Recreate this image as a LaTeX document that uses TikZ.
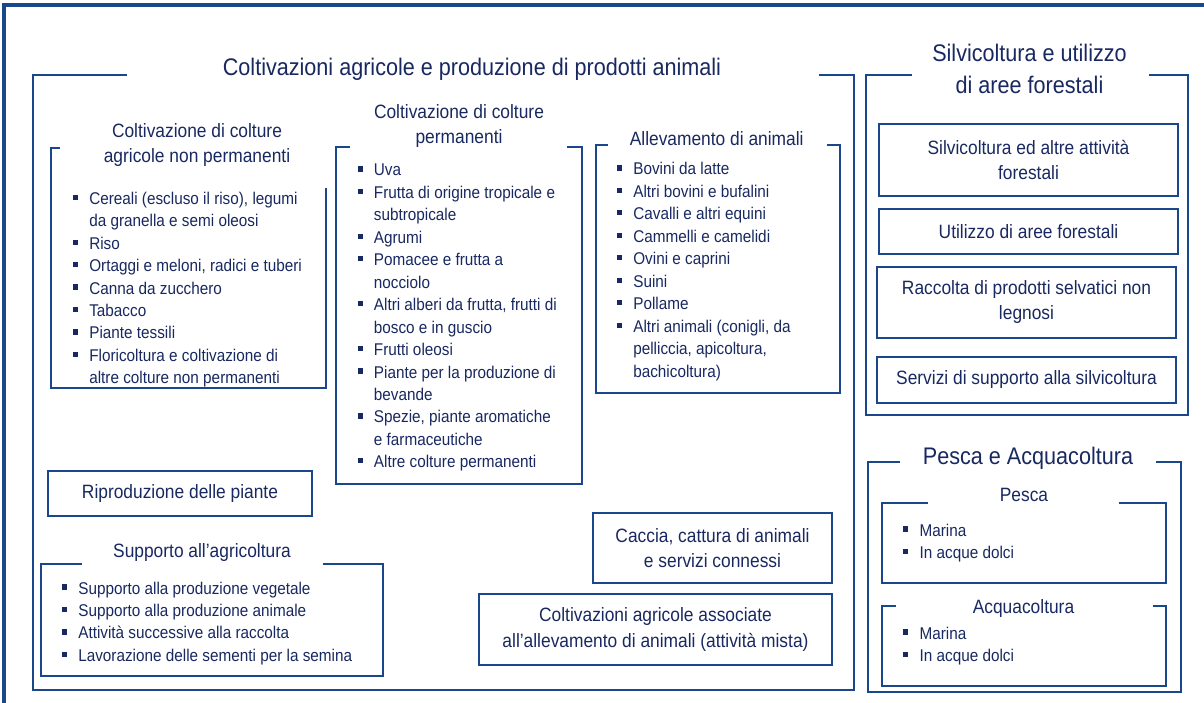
\documentclass[tikz,border=0pt]{standalone}
\usepackage{fontspec}
\setmainfont{Liberation Sans}[FakeStretch=0.9]
\definecolor{linec}{RGB}{26,70,140}
\definecolor{textc}{RGB}{24,40,96}
\newcommand{\fbig}{\fontsize{24}{32}\selectfont}
\newcommand{\fmid}{\fontsize{19.3}{25}\selectfont}
\newcommand{\fsm}{\fontsize{17}{22.5}\selectfont}
\newcommand{\bl}{\makebox[16.4pt][l]{\raisebox{4.4pt}{\rule{5.2pt}{5.2pt}}}}
\newcommand{\ind}{\hspace*{16.4pt}}
\newcommand{\blist}[1]{\vtop{\fsm\baselineskip=22.45pt\lineskiplimit=-30pt\lineskip=0pt\halign{##\hfil\cr#1\crcr}}}
\newcommand{\ctitle}[2]{\vtop{\baselineskip=#1\lineskiplimit=-30pt\lineskip=0pt\halign{\hfil##\hfil\cr#2\crcr}}}
\tikzset{
  frame/.style={draw=linec, line width=2.3pt, line join=miter},
  outer/.style={draw=linec, line width=4pt},
  box/.style={draw=linec, line width=2.5pt, font=\fmid, text=textc, align=center, inner sep=0pt},
  ttl/.style={text=textc, inner sep=0pt, anchor=base},
  lst/.style={text=textc, inner sep=0pt, anchor=base west},
}
\begin{document}
\begin{tikzpicture}[x=1pt,y=-1pt]
\useasboundingbox (0,0) rectangle (1204,703);
% outer frame
\draw[outer] (4,710) -- (4,5.3) -- (1210,5.3);

% main frame
\draw[frame] (127,75) -- (33,75) -- (33,690) -- (854,690) -- (854,75) -- (819,75);
\node[ttl, font=\fbig] (tmain) at (472,76) {Coltivazioni agricole e produzione di prodotti animali};

% non permanenti
\draw[frame] (60,148) -- (51,148) -- (51,388) -- (326,388) -- (326,188);
\node[ttl, font=\fmid] (tnp) at (197,137.3) {\ctitle{25.4pt}{Coltivazione di colture\cr agricole non permanenti}};
\node[lst] (lnp) at (72.7,204.3) {\blist{%
\bl Cereali (escluso il riso), legumi\cr
\ind da granella e semi oleosi\cr
\bl Riso\cr
\bl Ortaggi e meloni, radici e tuberi\cr
\bl Canna da zucchero\cr
\bl Tabacco\cr
\bl Piante tessili\cr
\bl Floricoltura e coltivazione di\cr
\ind altre colture non permanenti}};

% permanenti
\draw[frame] (350,147) -- (336,147) -- (336,484) -- (582,484) -- (582,147) -- (567,147);
\node[ttl, font=\fmid] (tp) at (459,118.3) {\ctitle{25pt}{Coltivazione di colture\cr permanenti}};
\node[lst] (lp) at (357.3,176) {\blist{%
\bl Uva\cr
\bl Frutta di origine tropicale e\cr
\ind subtropicale\cr
\bl Agrumi\cr
\bl Pomacee e frutta a\cr
\ind nocciolo\cr
\bl Altri alberi da frutta, frutti di\cr
\ind bosco e in guscio\cr
\bl Frutti oleosi\cr
\bl Piante per la produzione di\cr
\ind bevande\cr
\bl Spezie, piante aromatiche\cr
\ind e farmaceutiche\cr
\bl Altre colture permanenti}};

% allevamento
\draw[frame] (608,145) -- (596,145) -- (596,393) -- (840,393) -- (840,145) -- (827,145);
\node[ttl, font=\fmid] (ta) at (716.7,146) {Allevamento di animali};
\node[lst] (la) at (616.7,175) {\blist{%
\bl Bovini da latte\cr
\bl Altri bovini e bufalini\cr
\bl Cavalli e altri equini\cr
\bl Cammelli e camelidi\cr
\bl Ovini e caprini\cr
\bl Suini\cr
\bl Pollame\cr
\bl Altri animali (conigli, da\cr
\ind pelliccia, apicoltura,\cr
\ind bachicoltura)}};

% riproduzione
\node[box, minimum width=264pt, minimum height=45pt] (ripr) at (180,493.5) {Riproduzione delle piante};

% supporto
\draw[frame] (82,564) -- (41,564) -- (41,676) -- (383,676) -- (383,564) -- (323,564);
\node[ttl, font=\fmid] (ts) at (202,557.7) {Supporto all’agricoltura};
\node[lst] (ls) at (61.7,594) {\blist{%
\bl Supporto alla produzione vegetale\cr
\bl Supporto alla produzione animale\cr
\bl Attività successive alla raccolta\cr
\bl Lavorazione delle sementi per la semina}};

% caccia and mista
\node[box, minimum width=239pt, minimum height=70pt] (caccia) at (712.5,548) {Caccia, cattura di animali\\e servizi connessi};
\node[box, minimum width=353pt, minimum height=71pt] (mista) at (655.5,629.5) {Coltivazioni agricole associate\\all’allevamento di animali (attività mista)};

% silvicoltura
\draw[frame] (912,75) -- (866,75) -- (866,415) -- (1188,415) -- (1188,75) -- (1149,75);
\node[ttl, font=\fbig] (tsil) at (1029.5,61.7) {\ctitle{31.7pt}{Silvicoltura e utilizzo\cr di aree forestali}};
\node[box, minimum width=299pt, minimum height=72pt] (s1) at (1028.5,160) {Silvicoltura ed altre attività\\forestali};
\node[box, minimum width=299pt, minimum height=45pt] (s2) at (1028.5,231.5) {Utilizzo di aree forestali};
\node[box, minimum width=299pt, minimum height=71pt] (s3) at (1026.5,302.5) {Raccolta di prodotti selvatici non\\legnosi};
\node[box, minimum width=299pt, minimum height=46pt] (s4) at (1026.5,380) {Servizi di supporto alla silvicoltura};

% pesca e acquacoltura
\draw[frame] (900,462) -- (868,462) -- (868,692) -- (1181,692) -- (1181,462) -- (1156,462);
\node[ttl, font=\fbig] (tpa) at (1028,464.3) {Pesca e Acquacoltura};
\draw[frame] (928,503) -- (882,503) -- (882,583) -- (1166,583) -- (1166,503) -- (1119,503);
\node[ttl, font=\fmid] (tpe) at (1024,501.7) {Pesca};
\node[lst] (lpe) at (903,536) {\blist{%
\bl Marina\cr
\bl In acque dolci}};
\draw[frame] (896,606) -- (882,606) -- (882,686) -- (1166,686) -- (1166,606) -- (1153,606);
\node[ttl, font=\fmid] (tac) at (1023.5,613.3) {Acquacoltura};
\node[lst] (lac) at (903,639) {\blist{%
\bl Marina\cr
\bl In acque dolci}};
\end{tikzpicture}
\end{document}
